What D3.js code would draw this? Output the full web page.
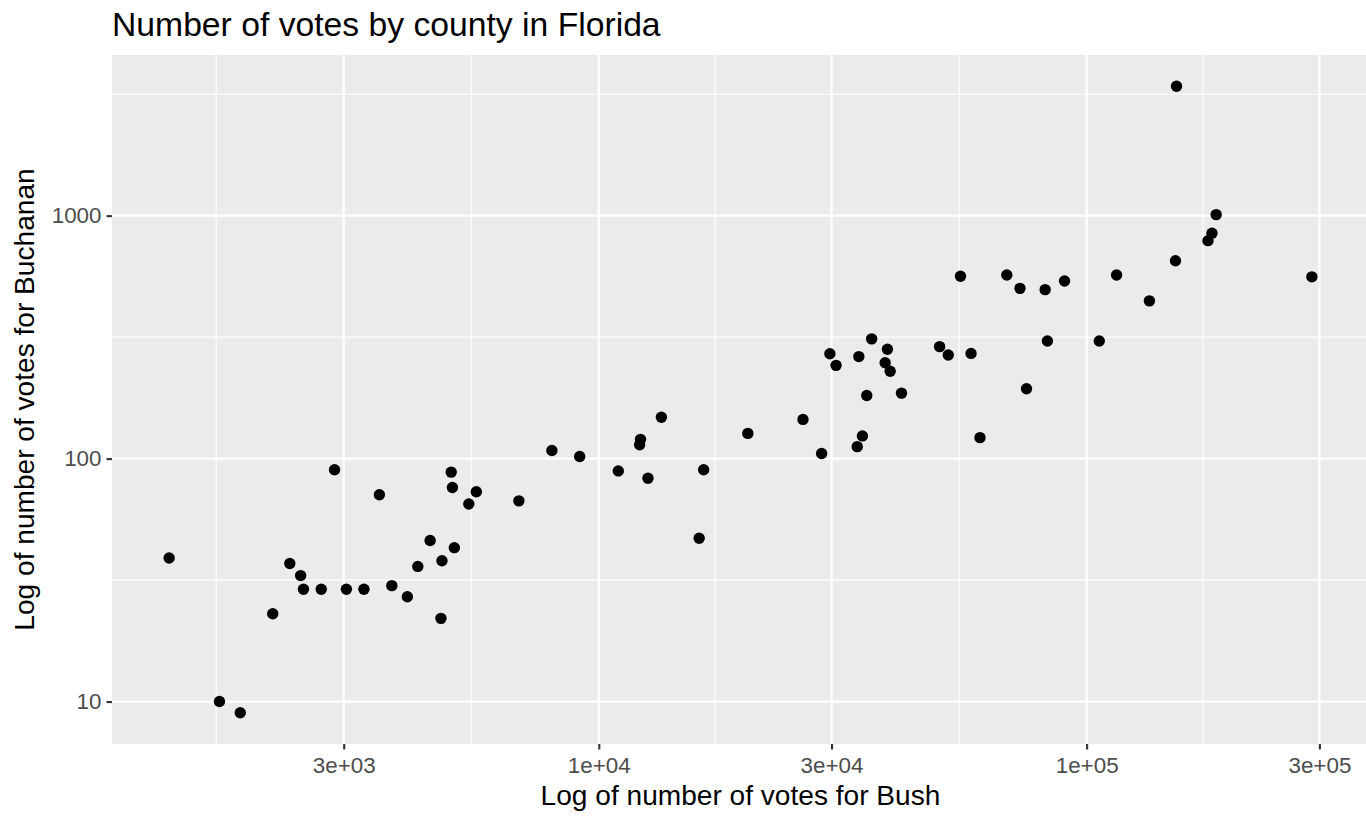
<!DOCTYPE html>
<html>
<head>
<meta charset="utf-8">
<script src="https://cdn.jsdelivr.net/npm/d3@7"></script>
<style>
  body { margin: 0; background: #fff; }
  svg { display: block; font-family: "Liberation Sans", Arial, Helvetica, sans-serif; }
</style>
</head>
<body>
<div id="chart"></div>
<script>
  'use strict';

  // Florida 2000, votes by county
  const counties = ['Alachua', 'Baker', 'Bay', 'Bradford', 'Brevard', 'Broward', 'Calhoun', 'Charlotte',
    'Citrus', 'Clay', 'Collier', 'Columbia', 'Dade', 'De Soto', 'Dixie', 'Duval', 'Escambia', 'Flagler',
    'Franklin', 'Gadsden', 'Gilchrist', 'Glades', 'Gulf', 'Hamilton', 'Hardee', 'Hendry', 'Hernando',
    'Highlands', 'Hillsborough', 'Holmes', 'Indian River', 'Jackson', 'Jefferson', 'Lafayette', 'Lake',
    'Lee', 'Leon', 'Levy', 'Liberty', 'Madison', 'Manatee', 'Marion', 'Martin', 'Monroe', 'Nassau',
    'Okaloosa', 'Okeechobee', 'Orange', 'Osceola', 'Palm Beach', 'Pasco', 'Pinellas', 'Polk', 'Putnam',
    'St. Johns', 'St. Lucie', 'Santa Rosa', 'Sarasota', 'Seminole', 'Sumter', 'Suwannee', 'Taylor',
    'Union', 'Volusia', 'Wakulla', 'Walton', 'Washington'];
  const bush = [34124, 5610, 38637, 5414, 115185, 177323, 2873, 35426,
    29767, 41736, 60450, 10964, 289533, 4256, 2698, 152098, 73017, 12613,
    2448, 4770, 3300, 1841, 3550, 2146, 3765, 4747, 30646,
    20206, 180713, 5011, 28627, 9138, 2481, 1669, 49963,
    106141, 39053, 6858, 1316, 3038, 57948, 55135, 33864, 16059, 16404,
    52043, 5057, 134476, 26216, 152846, 68607, 184312, 90101, 13439,
    39564, 34705, 36248, 83100, 75293, 12126, 8014, 4051,
    2326, 82214, 4511, 12176, 4983];
  const buchanan = [263, 73, 248, 65, 570, 789, 90, 182,
    270, 186, 122, 89, 560, 36, 29, 652, 502, 83,
    33, 38, 29, 9, 71, 23, 30, 22, 242,
    127, 847, 76, 105, 102, 29, 10, 289,
    305, 282, 67, 39, 29, 271, 563, 112, 47, 90,
    267, 43, 446, 145, 3407, 570, 1010, 538, 148,
    229, 124, 311, 305, 194, 114, 108, 27,
    37, 496, 46, 120, 88];

  const xTicks = [3000, 10000, 30000, 100000, 300000];
  const xTickLabels = ['3e+03', '1e+04', '3e+04', '1e+05', '3e+05'];
  const yTicks = [10, 100, 1000];
  const yTickLabels = ['10', '100', '1000'];

  const W = 1366, H = 817;
  const panel = { left: 112, right: 1369, top: 55, bottom: 744 };

  const data = counties.map((c, i) => ({ county: c, x: bush[i], y: buchanan[i] }));

  // ggplot style: 5% expansion on the log range
  function expandLog(vals) {
    const lo = Math.log10(d3.min(vals)), hi = Math.log10(d3.max(vals));
    const pad = (hi - lo) * 0.05;
    return [Math.pow(10, lo - pad), Math.pow(10, hi + pad)];
  }

  const x = d3.scaleLog().domain(expandLog(bush)).range([panel.left, panel.right]);
  const y = d3.scaleLog().domain(expandLog(buchanan)).range([panel.bottom, panel.top]);

  // minor breaks halfway between majors (log space), like regular_minor_breaks
  function minorBreaks(ticks, scale) {
    const b = ticks.map(Math.log10);
    const bd = b[1] - b[0];
    const lim = scale.domain().map(Math.log10);
    if (lim[0] < b[0]) b.unshift(b[0] - bd);
    if (lim[1] > b[b.length - 1]) b.push(b[b.length - 1] + bd);
    const mids = [];
    for (let i = 0; i < b.length - 1; i++) mids.push((b[i] + b[i + 1]) / 2);
    return mids.filter(m => m > lim[0] && m < lim[1]).map(m => Math.pow(10, m));
  }

  const svg = d3.select('#chart').append('svg')
    .attr('width', W)
    .attr('height', H);

  svg.append('defs').append('clipPath').attr('id', 'clip')
    .append('rect')
    .attr('x', panel.left).attr('y', panel.top)
    .attr('width', panel.right - panel.left)
    .attr('height', panel.bottom - panel.top);

  const plot = svg.append('g').attr('clip-path', 'url(#clip)');

  plot.append('rect')
    .attr('x', panel.left).attr('y', panel.top)
    .attr('width', panel.right - panel.left)
    .attr('height', panel.bottom - panel.top)
    .attr('fill', '#EBEBEB');

  // minor grid
  plot.append('g').selectAll('line')
    .data(minorBreaks(xTicks, x))
    .enter().append('line')
    .attr('x1', d => x(d)).attr('x2', d => x(d))
    .attr('y1', panel.top).attr('y2', panel.bottom)
    .attr('stroke', '#fff').attr('stroke-width', 1.1);

  plot.append('g').selectAll('line')
    .data(minorBreaks(yTicks, y))
    .enter().append('line')
    .attr('y1', d => y(d)).attr('y2', d => y(d))
    .attr('x1', panel.left).attr('x2', panel.right)
    .attr('stroke', '#fff').attr('stroke-width', 1.1);

  // major grid
  plot.append('g').selectAll('line')
    .data(xTicks)
    .enter().append('line')
    .attr('x1', d => x(d)).attr('x2', d => x(d))
    .attr('y1', panel.top).attr('y2', panel.bottom)
    .attr('stroke', '#fff').attr('stroke-width', 2.2);

  plot.append('g').selectAll('line')
    .data(yTicks)
    .enter().append('line')
    .attr('y1', d => y(d)).attr('y2', d => y(d))
    .attr('x1', panel.left).attr('x2', panel.right)
    .attr('stroke', '#fff').attr('stroke-width', 2.2);

  // points
  plot.append('g').selectAll('circle')
    .data(data)
    .enter().append('circle')
    .attr('cx', d => x(d.x))
    .attr('cy', d => y(d.y))
    .attr('r', 5.7)
    .attr('fill', '#000');

  // axes
  const xAxis = svg.append('g')
    .attr('transform', `translate(0,${panel.bottom})`)
    .call(d3.axisBottom(x).tickValues(xTicks).tickFormat((d, i) => xTickLabels[i]).tickSize(5.5).tickPadding(4));

  const yAxis = svg.append('g')
    .attr('transform', `translate(${panel.left},0)`)
    .call(d3.axisLeft(y).tickValues(yTicks).tickFormat((d, i) => yTickLabels[i]).tickSize(5.5).tickPadding(5));

  [xAxis, yAxis].forEach(a => {
    a.select('.domain').remove();
    a.selectAll('.tick line').attr('stroke', '#333').attr('stroke-width', 2.1);
    a.selectAll('.tick text')
      .attr('fill', '#4D4D4D')
      .style('font-size', '22.4px')
      .style('font-family', '"Liberation Sans", Arial, sans-serif');
  });
  xAxis.selectAll('.tick text').attr('dy', null).attr('y', 29);

  // titles
  svg.append('text')
    .attr('x', panel.left)
    .attr('y', 36)
    .attr('font-size', 33.7)
    .attr('fill', '#000')
    .text('Number of votes by county in Florida');

  svg.append('text')
    .attr('x', (panel.left + panel.right) / 2)
    .attr('y', 805)
    .attr('text-anchor', 'middle')
    .attr('font-size', 28.1)
    .attr('fill', '#000')
    .text('Log of number of votes for Bush');

  svg.append('text')
    .attr('transform', `translate(34,${(panel.top + panel.bottom) / 2}) rotate(-90)`)
    .attr('text-anchor', 'middle')
    .attr('font-size', 28.1)
    .attr('fill', '#000')
    .text('Log of number of votes for Buchanan');
</script>
</body>
</html>
